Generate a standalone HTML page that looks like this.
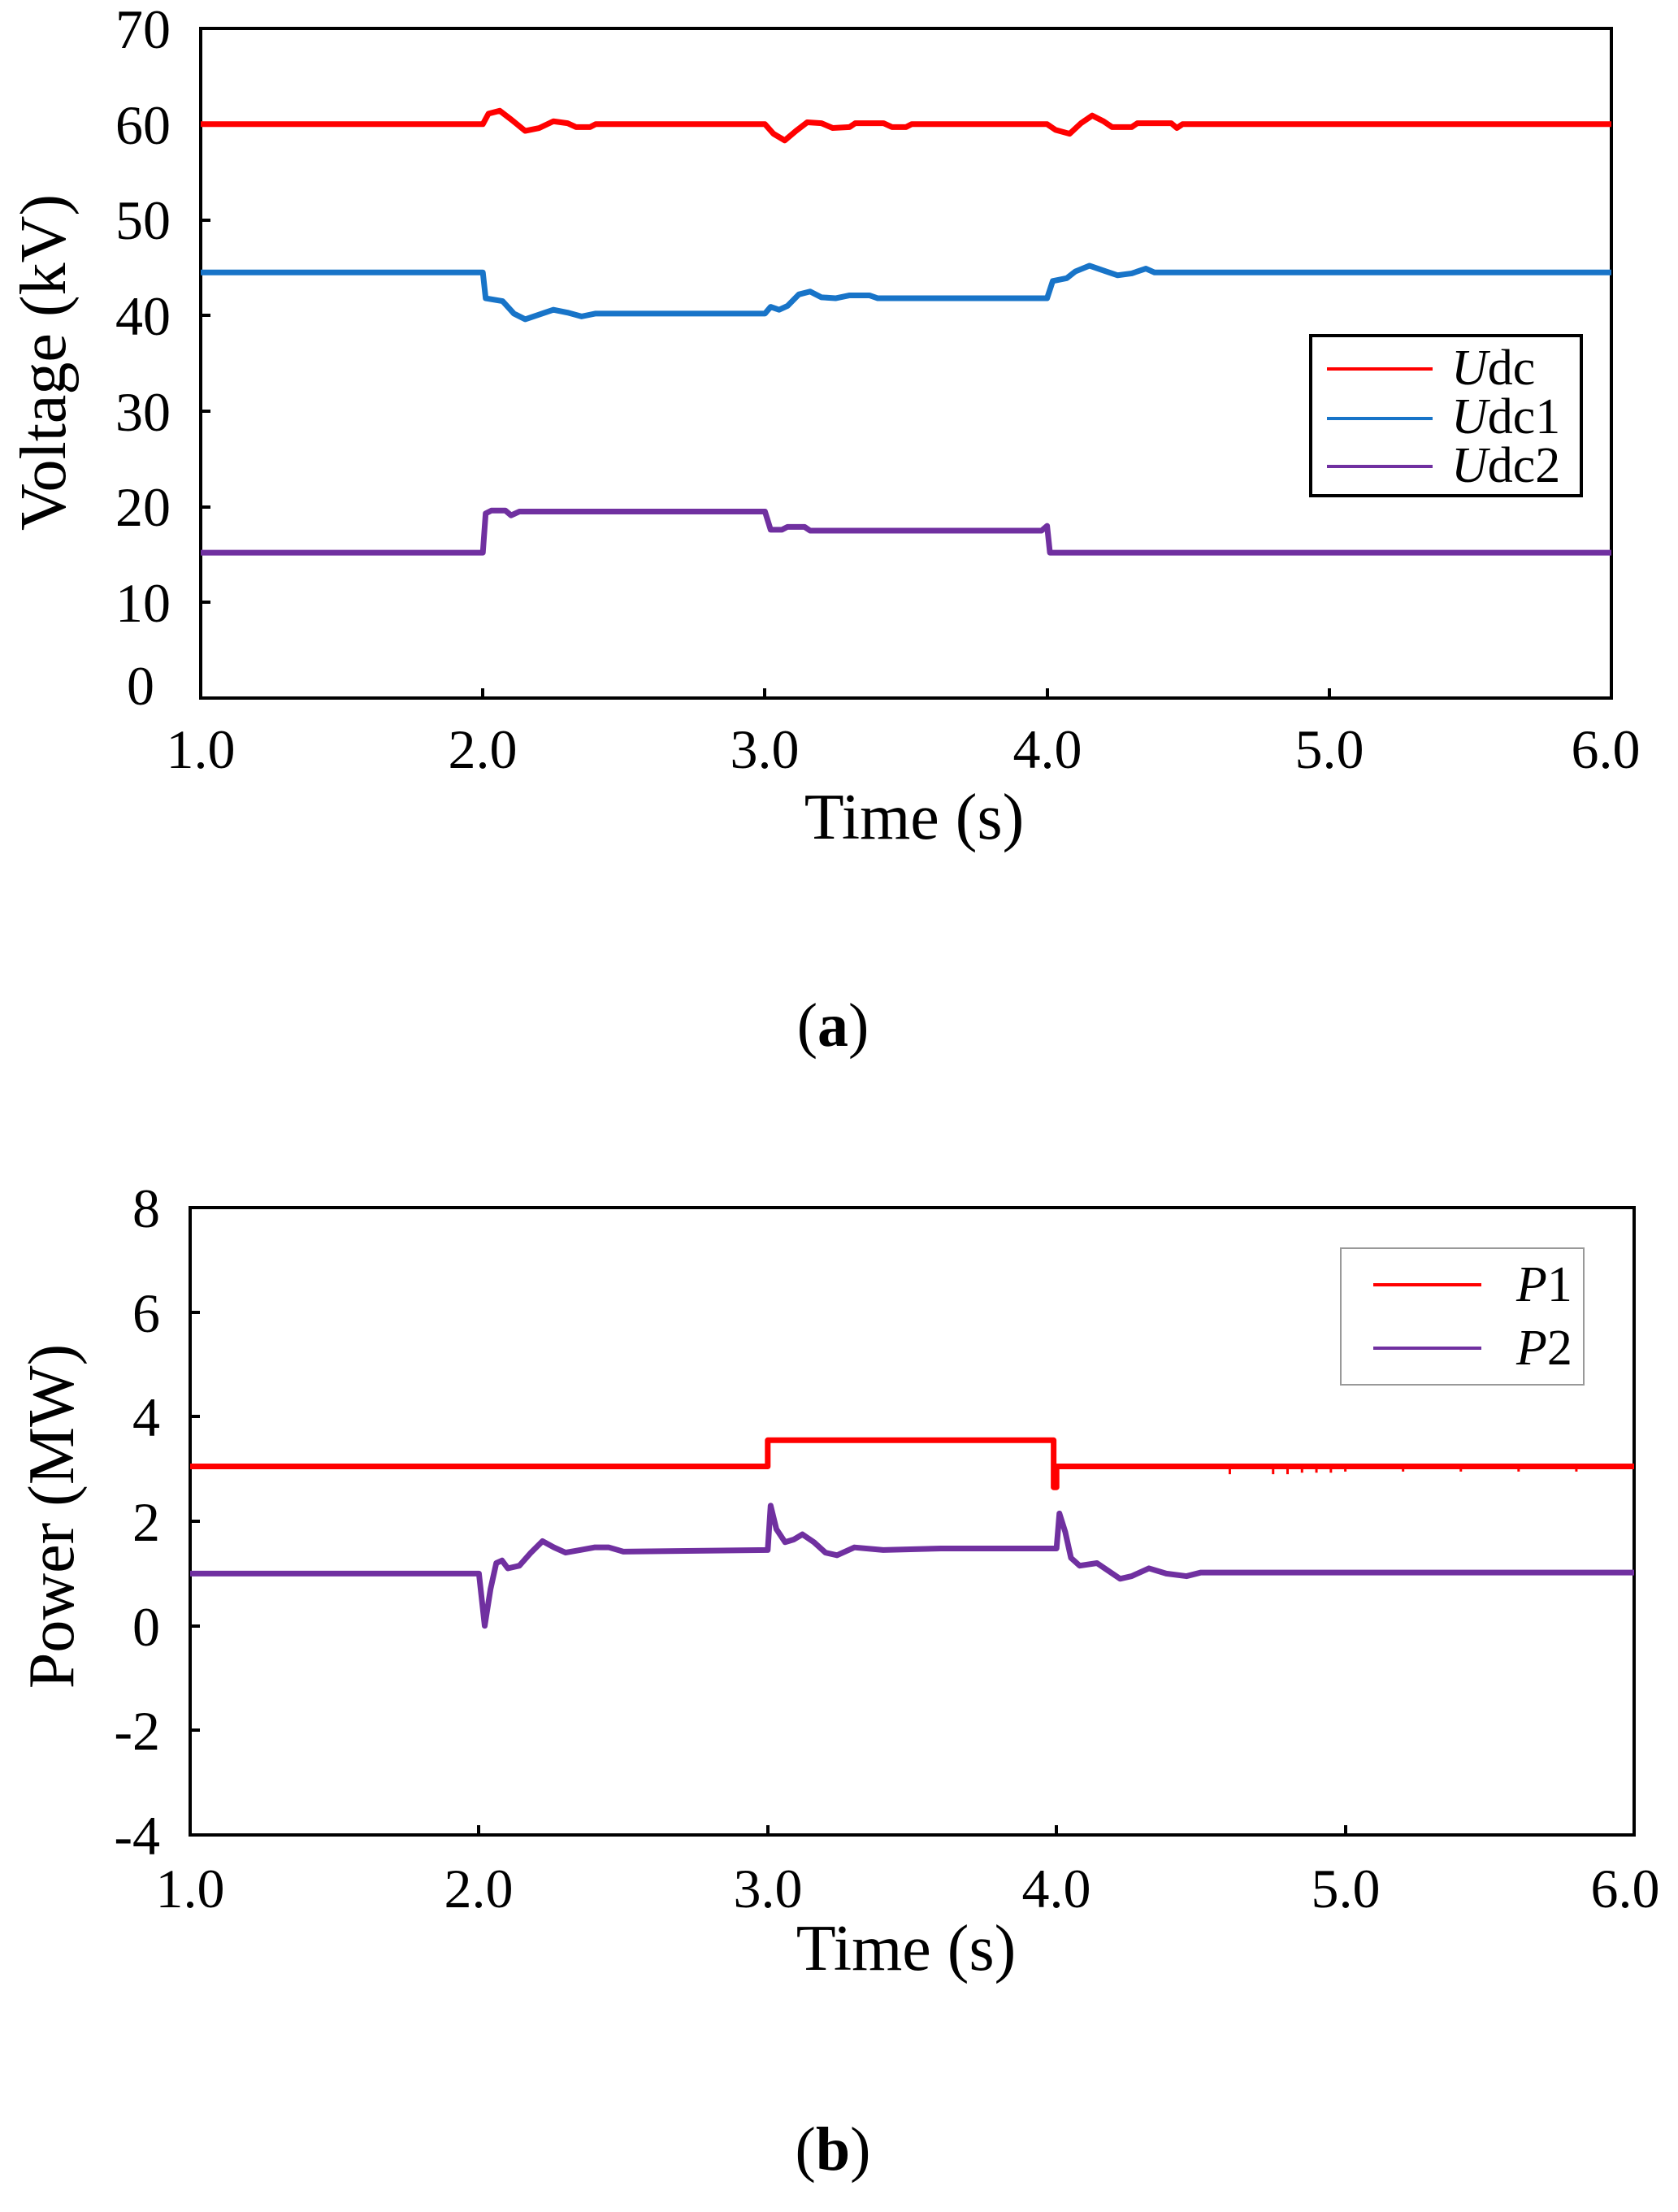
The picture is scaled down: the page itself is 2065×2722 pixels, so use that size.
<!DOCTYPE html>
<html><head><meta charset="utf-8"><style>
html,body{margin:0;padding:0;background:#fff;}
svg{display:block;}
text{font-family:"Liberation Serif",serif;fill:#000;}
</style></head><body>
<svg width="2065" height="2722" viewBox="0 0 2065 2722" xmlns="http://www.w3.org/2000/svg">
<!-- TOP PLOT -->
<g stroke="#000" stroke-width="4" fill="none">
<rect x="247" y="35" width="1736" height="824"/>
<path d="M247 741h12M247 624h12M247 506h12M247 388h12M247 271h12M247 153h12M594 859v-12M941 859v-12M1289 859v-12M1636 859v-12"/>
</g>
<g transform="translate(247,859) scale(347.2,-11.77) translate(-1,0)" fill="none" stroke-linejoin="round">
<polyline vector-effect="non-scaling-stroke" stroke-width="7" stroke="#7030a0" points="1,15.2 2.0,15.2 2.01,19.3 2.03,19.6 2.08,19.6 2.1,19.1 2.13,19.5 3.0,19.5 3.02,17.6 3.06,17.6 3.08,17.9 3.14,17.9 3.16,17.5 3.98,17.5 4.0,18.0 4.01,15.2 6,15.2"/>
<polyline vector-effect="non-scaling-stroke" stroke-width="7" stroke="#1874c8" points="1,44.5 2.0,44.5 2.01,41.8 2.07,41.5 2.11,40.2 2.15,39.6 2.2,40.1 2.25,40.6 2.3,40.3 2.35,39.9 2.4,40.2 3.0,40.2 3.02,40.9 3.05,40.6 3.08,41.0 3.12,42.2 3.16,42.5 3.2,41.9 3.25,41.8 3.3,42.1 3.37,42.1 3.4,41.8 4.0,41.8 4.02,43.6 4.07,43.9 4.1,44.6 4.15,45.2 4.2,44.7 4.25,44.2 4.3,44.4 4.35,44.9 4.38,44.5 6,44.5"/>
<polyline vector-effect="non-scaling-stroke" stroke-width="7" stroke="#ff0000" points="1,60 2.0,60 2.02,61.1 2.06,61.4 2.1,60.5 2.15,59.3 2.2,59.6 2.25,60.3 2.3,60.1 2.33,59.7 2.38,59.7 2.4,60 3.0,60 3.03,59 3.07,58.3 3.11,59.3 3.15,60.2 3.2,60.1 3.24,59.6 3.3,59.7 3.32,60.1 3.42,60.1 3.45,59.7 3.5,59.7 3.52,60 4.0,60 4.03,59.4 4.08,59 4.12,60.1 4.16,60.9 4.2,60.3 4.23,59.7 4.3,59.7 4.32,60.1 4.44,60.1 4.46,59.6 4.48,60 6,60"/>
</g>
<g font-size="68" text-anchor="end">
<text x="210" y="59">70</text><text x="210" y="177">60</text><text x="210" y="294">50</text><text x="210" y="412">40</text><text x="210" y="530">30</text><text x="210" y="647">20</text><text x="210" y="765">10</text><text x="190" y="867">0</text>
</g>
<g font-size="68" text-anchor="middle">
<text x="247" y="945">1.0</text><text x="594" y="945">2.0</text><text x="941" y="945">3.0</text><text x="1289" y="945">4.0</text><text x="1636" y="945">5.0</text><text x="1976" y="945">6.0</text>
</g>
<text x="1125" y="1032" font-size="80" text-anchor="middle">Time (s)</text>
<text transform="translate(80,446) rotate(-90)" font-size="80" text-anchor="middle">Voltage (kV)</text>
<text x="1025" y="1287" font-size="76" text-anchor="middle">(<tspan font-weight="bold">a</tspan>)</text>
<rect x="1613" y="413" width="333" height="197" fill="#fff" stroke="#000" stroke-width="4"/>
<path d="M1633 454h130" stroke="#ff0000" stroke-width="4"/>
<path d="M1633 515h130" stroke="#1874c8" stroke-width="4"/>
<path d="M1633 574h130" stroke="#7030a0" stroke-width="4"/>
<g font-size="62"><text x="1786" y="473"><tspan font-style="italic">U</tspan>dc</text><text x="1786" y="533"><tspan font-style="italic">U</tspan>dc1</text><text x="1786" y="593"><tspan font-style="italic">U</tspan>dc2</text></g>

<!-- BOTTOM PLOT -->
<g stroke="#000" stroke-width="4" fill="none">
<rect x="234" y="1486" width="1777" height="772"/>
<path d="M234 2129h12M234 2001h12M234 1872h12M234 1743h12M234 1615h12M589 2258v-12M945 2258v-12M1300 2258v-12M1656 2258v-12"/>
</g>
<g transform="translate(234,2258) scale(355.4,-64.33) translate(-1,4)" fill="none" stroke-linejoin="round">
<polyline vector-effect="non-scaling-stroke" stroke-width="7" stroke="#ff0000" points="1,3.05 3.0,3.05 3.0,3.55 3.99,3.55 3.99,2.65 4.0,2.65 4.0,3.05 6,3.05"/>
<path vector-effect="non-scaling-stroke" stroke-width="3" stroke="#ff0000" d="M4.6,3.05v-0.15M4.75,3.05v-0.15M4.8,3.05v-0.15M4.85,3.05v-0.12M4.9,3.05v-0.12M4.95,3.05v-0.12M5.0,3.05v-0.1M5.2,3.05v-0.1M5.4,3.05v-0.1M5.6,3.05v-0.1M5.8,3.05v-0.1"/>
<polyline vector-effect="non-scaling-stroke" stroke-width="7" stroke="#7030a0" points="1,1.0 2.0,1.0 2.01,0.5 2.02,0.0 2.04,0.7 2.06,1.2 2.08,1.25 2.1,1.1 2.14,1.15 2.18,1.4 2.22,1.62 2.26,1.5 2.3,1.4 2.35,1.45 2.4,1.5 2.45,1.5 2.5,1.42 3.0,1.45 3.01,2.3 3.03,1.85 3.06,1.6 3.09,1.65 3.12,1.75 3.16,1.6 3.2,1.4 3.24,1.35 3.3,1.5 3.4,1.45 3.6,1.48 4.0,1.48 4.01,2.15 4.03,1.8 4.05,1.3 4.08,1.15 4.14,1.2 4.18,1.05 4.22,0.9 4.26,0.95 4.32,1.1 4.38,1.0 4.45,0.95 4.5,1.02 6,1.02"/>
</g>
<g font-size="68" text-anchor="end">
<text x="197" y="1510">8</text><text x="197" y="1639">6</text><text x="197" y="1767">4</text><text x="197" y="1896">2</text><text x="197" y="2025">0</text><text x="197" y="2153">-2</text><text x="197" y="2282">-4</text>
</g>
<g font-size="68" text-anchor="middle">
<text x="234" y="2347">1.0</text><text x="589" y="2347">2.0</text><text x="945" y="2347">3.0</text><text x="1300" y="2347">4.0</text><text x="1656" y="2347">5.0</text><text x="2000" y="2347">6.0</text>
</g>
<text x="1115" y="2424" font-size="80" text-anchor="middle">Time (s)</text>
<text transform="translate(90,1866) rotate(-90)" font-size="80" text-anchor="middle">Power (MW)</text>
<text x="1025" y="2670" font-size="76" text-anchor="middle">(<tspan font-weight="bold">b</tspan>)</text>
<rect x="1650" y="1536" width="299" height="168" fill="#fff" stroke="#999" stroke-width="2"/>
<path d="M1690 1581h133" stroke="#ff0000" stroke-width="4"/>
<path d="M1690 1659h133" stroke="#7030a0" stroke-width="4"/>
<g font-size="62"><text x="1866" y="1601"><tspan font-style="italic">P</tspan>1</text><text x="1866" y="1679"><tspan font-style="italic">P</tspan>2</text></g>
</svg>
</body></html>
